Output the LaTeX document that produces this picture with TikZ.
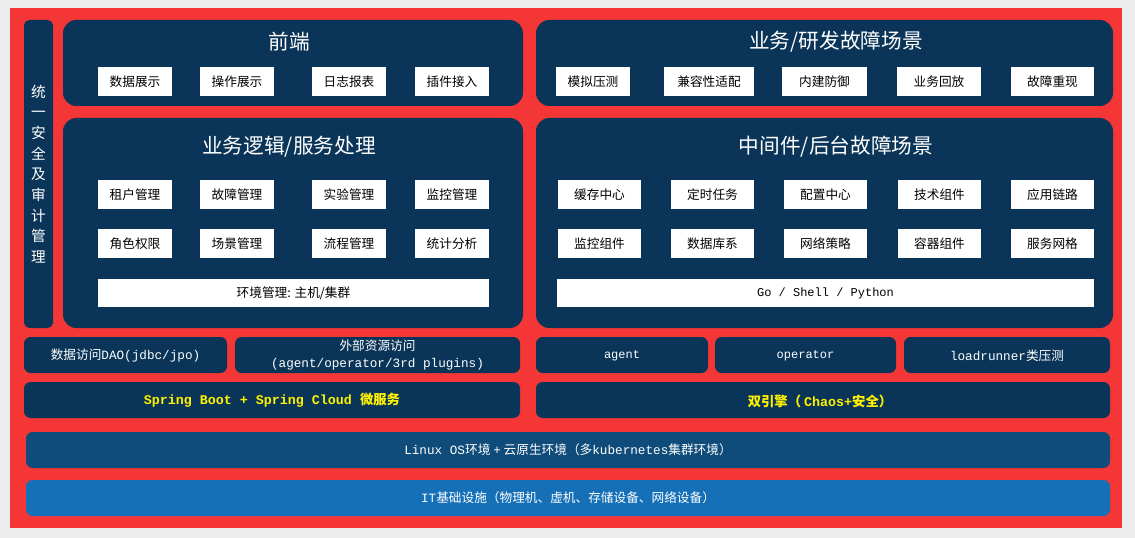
\documentclass[tikz,border=0pt]{standalone}
\usepackage{fontspec}
\setmainfont{Noto Sans CJK SC}
\setmonofont{Liberation Mono}
\newfontfamily\cjk{Noto Sans CJK SC}
\begin{document}
\begin{tikzpicture}[x=0.75pt,y=-0.75pt,
  big/.style={fill=navy,rounded corners=10pt},
  bar/.style={text=white,font=\fontsize{9.5}{11}\selectfont},
  wb/.style={text=black,font=\fontsize{9.5}{11}\selectfont},
  ttl/.style={text=white,font=\fontsize{15.5}{18}\selectfont},
  ylw/.style={text=yellow,font=\fontsize{10}{12}\selectfont\bfseries}]
\definecolor{navy}{HTML}{0A3558}
\definecolor{redbg}{HTML}{F43636}
\definecolor{linuxc}{HTML}{0F4C7A}
\definecolor{itc}{HTML}{1570B8}
\fill[gray!15] (0,0) rectangle (1135,538);
\useasboundingbox (0,0) rectangle (1135,538);
\fill[redbg] (10,8) rectangle (1122,528);
% left
\fill[navy,rounded corners=4pt] (24,20) rectangle (53,328);
\node[text=white,font=\fontsize{11}{15.5}\selectfont,align=center] (sec) at (38.5,174) {统\\一\\安\\全\\及\\审\\计\\管\\理};
% big boxes
\fill[big] (63,20) rectangle (523,106);
\node[ttl] (fe) at (289,42) {前端};
\fill[big] (536,20) rectangle (1113,106);
\node[ttl] (bz) at (836,42) {业务/研发故障场景};
\fill[big] (63,118) rectangle (523,328);
\node[ttl] (lg) at (289,147) {业务逻辑/服务处理};
\fill[big] (536,118) rectangle (1113,328);
\node[ttl] (mw) at (836,147) {中间件/后台故障场景};
% left small boxes
\foreach \a/\b/\y/\t [count=\i] in {98/172/67/数据展示,200/274/67/操作展示,312/386/67/日志报表,415/489/67/插件接入,
  98/172/180/租户管理,200/274/180/故障管理,312/386/180/实验管理,415/489/180/监控管理,
  98/172/229/角色权限,200/274/229/场景管理,312/386/229/流程管理,415/489/229/统计分析}{
  \fill[white] (\a,\y) rectangle (\b,\y+29);
  \node[wb] (l\i) at ({(\a+\b)/2},\y+14.5) {\t};}
\foreach \a/\b/\y/\t [count=\i] in {556/630/67/模拟压测,664/754/67/兼容性适配,782/867/67/内建防御,897/981/67/业务回放,1011/1094/67/故障重现,
  558/641/180/缓存中心,671/754/180/定时任务,784/867/180/配置中心,898/981/180/技术组件,1011/1094/180/应用链路,
  558/641/229/监控组件,671/754/229/数据库系,784/867/229/网络策略,898/981/229/容器组件,1011/1094/229/服务网格}{
  \fill[white] (\a,\y) rectangle (\b,\y+29);
  \node[wb] (r\i) at ({(\a+\b)/2},\y+14.5) {\t};}
\fill[white] (98,279) rectangle (489,307);
\node[wb] (env) at (293.5,293) {环境管理: 主机/集群};
\fill[white] (557,279) rectangle (1094,307);
\node[wb,font=\ttfamily\fontsize{9}{11}\selectfont] (go) at (825.5,293) {Go / Shell / Python};
% rows
\fill[navy,rounded corners=5pt] (24,337) rectangle (227,373);
\node[bar] (dao) at (125.5,355) {数据访问{\ttfamily DAO(jdbc/jpo)}};
\fill[navy,rounded corners=5pt] (235,337) rectangle (520,373);
\node[bar,align=center,font=\fontsize{9.5}{13}\selectfont] (ext) at (377.5,355) {外部资源访问\\{\ttfamily (agent/operator/3rd plugins)}};
\fill[navy,rounded corners=5pt] (536,337) rectangle (708,373);
\node[bar,font=\ttfamily\fontsize{9}{11}\selectfont] (ag) at (622,356) {agent};
\fill[navy,rounded corners=5pt] (715,337) rectangle (896,373);
\node[bar,font=\ttfamily\fontsize{9}{11}\selectfont] (op) at (805.5,356) {operator};
\fill[navy,rounded corners=5pt] (904,337) rectangle (1110,373);
\node[bar] (lr) at (1007,356) {{\ttfamily loadrunner}类压测};
\fill[navy,rounded corners=5pt] (24,382) rectangle (520,418);
\node[ylw,font=\ttfamily\bfseries\fontsize{10}{12}\selectfont] (sp) at (272,400) {Spring Boot + Spring Cloud {\cjk\bfseries 微服务}};
\fill[navy,rounded corners=5pt] (536,382) rectangle (1110,418);
\node[ylw] (de) at (820,401) {双引擎（ {\ttfamily\bfseries Chaos+}安全）};
\fill[linuxc,rounded corners=5pt] (26,432) rectangle (1110,468);
\node[bar] (lx) at (568,450) {{\ttfamily Linux OS}环境 {\ttfamily +} 云原生环境（多{\ttfamily kubernetes}集群环境）};
\fill[itc,rounded corners=5pt] (26,480) rectangle (1110,516);
\node[bar] (it) at (568,498) {{\ttfamily IT}基础设施（物理机、虚机、存储设备、网络设备）};
\end{tikzpicture}
\end{document}
